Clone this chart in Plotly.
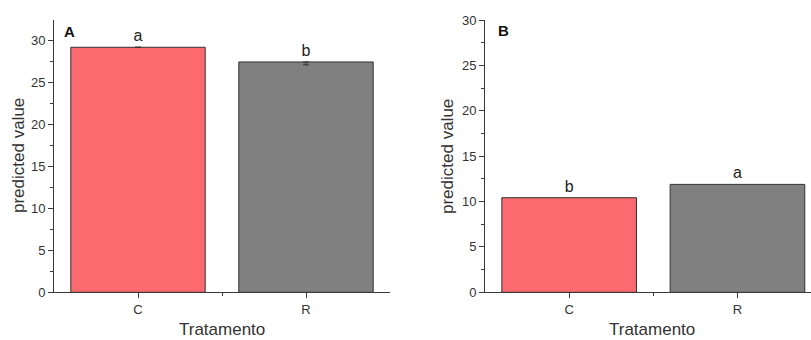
import plotly.graph_objects as go

# Treatment groups and model predictions for the two response variables
treatments = ["C", "R"]
pred_a = [29.2, 27.45]
err_a_minus = [0.0, 0.35]
pred_b = [10.42, 11.89]
letters_a = ["a", "b"]
letters_b = ["b", "a"]
y_ticks = [0, 5, 10, 15, 20, 25, 30]

bar_colors = ["rgb(250,106,110)", "rgb(128,128,128)"]
axis_color = "#3a3a3a"
font_family = "Liberation Sans, Arial, sans-serif"

W, H = 811, 340
x_pos = list(range(len(treatments)))

fig = go.Figure()

fig.add_trace(go.Bar(
    x=x_pos, y=pred_a, width=0.8,
    marker=dict(color=bar_colors, line=dict(color="#333333", width=1)),
    error_y=dict(type="data", symmetric=False, array=[0, 0], arrayminus=err_a_minus,
                 color="#333333", thickness=1, width=3),
    text=letters_a, textposition="outside", cliponaxis=False,
    textfont=dict(size=16, color="#222222", family=font_family),
    xaxis="x", yaxis="y", showlegend=False,
))

fig.add_trace(go.Bar(
    x=x_pos, y=pred_b, width=0.8,
    marker=dict(color=bar_colors, line=dict(color="#333333", width=1)),
    text=letters_b, textposition="outside", cliponaxis=False,
    textfont=dict(size=16, color="#222222", family=font_family),
    xaxis="x2", yaxis="y2", showlegend=False,
))

y_dom = [47.7 / H, 320 / H]

common_x = dict(
    tickmode="array", tickvals=x_pos, ticktext=treatments,
    showline=True, linecolor=axis_color, linewidth=1,
    ticks="outside", ticklen=5, tickcolor=axis_color, tickwidth=1,
    minor=dict(tickmode="array", tickvals=[0.5], ticks="outside", ticklen=3,
               tickcolor=axis_color),
    showgrid=False, zeroline=False, automargin=False,
    tickfont=dict(size=13, color="#333333", family=font_family),
)
common_y = dict(
    tickmode="array", tickvals=y_ticks,
    showline=True, linecolor=axis_color, linewidth=1,
    ticks="outside", ticklen=5, tickcolor=axis_color, tickwidth=1,
    minor=dict(dtick=2.5, tick0=0, ticks="outside", ticklen=3, tickcolor=axis_color),
    showgrid=False, zeroline=False, automargin=False,
    tickfont=dict(size=13, color="#333333", family=font_family),
)

fig.update_layout(
    width=W, height=H, autosize=False,
    margin=dict(l=0, r=0, t=0, b=0, pad=0, autoexpand=False),
    paper_bgcolor="white", plot_bgcolor="white",
    bargap=0.2,
    xaxis=dict(domain=[54 / W, 390 / W], range=[-0.5, 1.5], anchor="y", **common_x),
    yaxis=dict(domain=y_dom, range=[0, 32.45], anchor="x", **common_y),
    xaxis2=dict(domain=[485 / W, 1.0], range=[-0.5, 1.437], anchor="y2", **common_x),
    yaxis2=dict(domain=y_dom, range=[0, 30], anchor="x2", **common_y),
    font=dict(family=font_family, color="#333333"),
)

annotations = [
    # panel tags
    dict(text="<b>A</b>", x=62 / W, y=1 - 31 / H, xref="paper", yref="paper",
         xanchor="left", yanchor="middle", showarrow=False,
         font=dict(size=15, color="#111111", family=font_family)),
    dict(text="<b>B</b>", x=496 / W, y=1 - 30 / H, xref="paper", yref="paper",
         xanchor="left", yanchor="middle", showarrow=False,
         font=dict(size=15, color="#111111", family=font_family)),
    # axis titles
    dict(text="predicted value", x=19 / W, y=(1 - 156 / H), xref="paper", yref="paper",
         textangle=-90, showarrow=False, xanchor="center", yanchor="middle",
         font=dict(size=17, color="#333333", family=font_family)),
    dict(text="predicted value", x=448 / W, y=(1 - 156 / H), xref="paper", yref="paper",
         textangle=-90, showarrow=False, xanchor="center", yanchor="middle",
         font=dict(size=17, color="#333333", family=font_family)),
    dict(text="Tratamento", x=222 / W, y=1 - 329.5 / H, xref="paper", yref="paper",
         showarrow=False, xanchor="center", yanchor="middle",
         font=dict(size=17, color="#333333", family=font_family)),
    dict(text="Tratamento", x=652 / W, y=1 - 329.5 / H, xref="paper", yref="paper",
         showarrow=False, xanchor="center", yanchor="middle",
         font=dict(size=17, color="#333333", family=font_family)),
]
fig.update_layout(annotations=annotations)

fig.write_html("out.html")
